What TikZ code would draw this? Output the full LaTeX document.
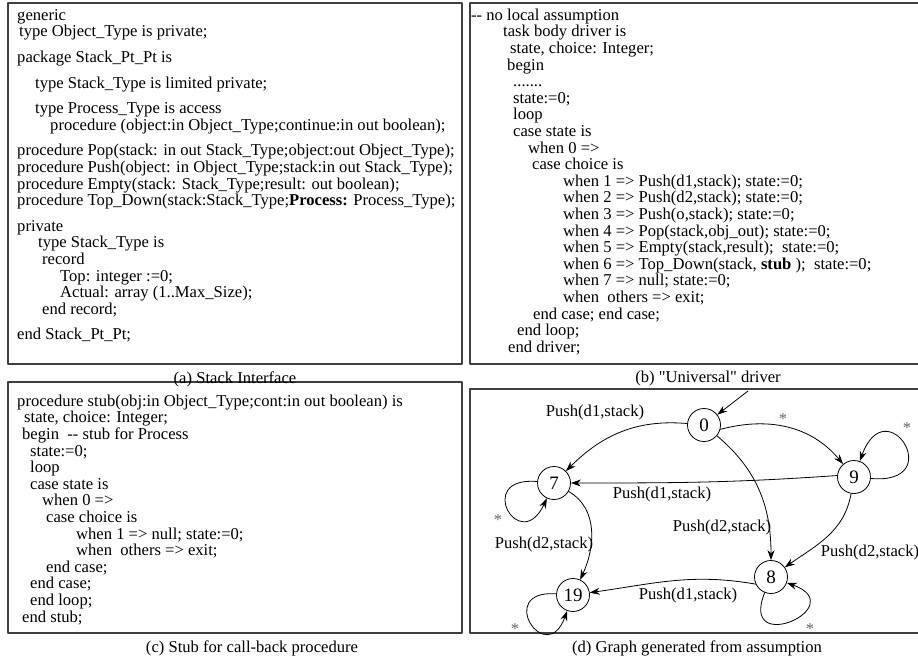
\documentclass[tikz,border=0pt]{standalone}
\usepackage{fontspec}
\newfontfamily\codefont{Liberation Serif}
\usetikzlibrary{arrows.meta}

\begin{document}
\begin{tikzpicture}[x=1pt,y=-1pt,>={Stealth[length=10pt,width=7pt]},line cap=round,line join=round,
  panel/.style={draw=black!75,line width=1.1pt},
  codeblock/.style={font=\codefont\fontsize{16.6}{16.6}\selectfont,align=left,inner sep=0pt,anchor=north west},
  captext/.style={font=\codefont\fontsize{16.6}{16.6}\selectfont,inner sep=0pt},
  stnode/.style={circle,draw,line width=0.8pt,minimum size=33pt,inner sep=0pt,font=\codefont\fontsize{19}{19}\selectfont},
  lbl/.style={font=\codefont\fontsize{16.6}{16.6}\selectfont,inner sep=0pt},
  starlbl/.style={font=\codefont\fontsize{16.6}{16.6}\selectfont,text=black!60,inner sep=0pt}]
  \useasboundingbox (0,0) rectangle (918,658);

  % Panels
  \draw[panel] (8,3) rectangle (462,364);
  \draw[panel] (470,3) rectangle (921,364);
  \draw[panel] (8,382) rectangle (462,633);
  \draw[panel] (470,389) rectangle (921,633);

  % (a) interface
  \node[codeblock] (codea) at (17,8) {\rule{0pt}{12pt}generic\\
    \hspace*{2pt}type Object\_Type is private;\\[9pt]
    package Stack\_Pt\_Pt is\\[9pt]
    \hspace*{18pt}type Stack\_Type is limited private;\\[9pt]
    \hspace*{18pt}type Process\_Type is access\\
    \hspace*{33pt}procedure (object:in Object\_Type;continue:in out boolean);\\[9pt]
    procedure Pop(stack: in out Stack\_Type;object:out Object\_Type);\\
    procedure Push(object: in Object\_Type;stack:in out Stack\_Type);\\
    procedure Empty(stack: Stack\_Type;result: out boolean);\\
    procedure Top\_Down(stack:Stack\_Type;\textbf{Process:} Process\_Type);\\[9pt]
    private\\
    \hspace*{21pt}type Stack\_Type is\\
    \hspace*{25pt}record\\
    \hspace*{43pt}Top: integer :=0;\\
    \hspace*{43pt}Actual: array (1..Max\_Size);\\
    \hspace*{25pt}end record;\\[9pt]
    end Stack\_Pt\_Pt;};

  % (b) driver
  \node[codeblock] (codeb) at (471,8) {\rule{0pt}{12pt}-- no local assumption\\
    \hspace*{32pt}task body driver is\\
    \hspace*{39pt}state, choice: Integer;\\
    \hspace*{36pt}begin\\
    \hspace*{42pt}.......\\
    \hspace*{42pt}state:=0;\\
    \hspace*{42pt}loop\\
    \hspace*{42pt}case state is\\
    \hspace*{57pt}when 0 =>\\
    \hspace*{61pt}case choice is\\
    \hspace*{92pt}when 1 => Push(d1,stack); state:=0;\\
    \hspace*{92pt}when 2 => Push(d2,stack); state:=0;\\
    \hspace*{92pt}when 3 => Push(o,stack); state:=0;\\
    \hspace*{92pt}when 4 => Pop(stack,obj\_out); state:=0;\\
    \hspace*{92pt}when 5 => Empty(stack,result);\ \ state:=0;\\
    \hspace*{92pt}when 6 => Top\_Down(stack, \textbf{stub} );\ \ state:=0;\\
    \hspace*{92pt}when 7 => null; state:=0;\\
    \hspace*{92pt}when\ \ others => exit;\\
    \hspace*{62pt}end case; end case;\\
    \hspace*{46pt}end loop;\\
    \hspace*{37pt}end driver;};

  % (c) stub
  \node[codeblock] (codec) at (17,394) {\rule{0pt}{12pt}procedure stub(obj:in Object\_Type;cont:in out boolean) is\\
    \hspace*{7pt}state, choice: Integer;\\
    \hspace*{5pt}begin\ \ -- stub for Process\\
    \hspace*{13pt}state:=0;\\
    \hspace*{13pt}loop\\
    \hspace*{13pt}case state is\\
    \hspace*{25pt}when 0 =>\\
    \hspace*{29pt}case choice is\\
    \hspace*{59pt}when 1 => null; state:=0;\\
    \hspace*{59pt}when\ \ others => exit;\\
    \hspace*{29pt}end case;\\
    \hspace*{13pt}end case;\\
    \hspace*{13pt}end loop;\\
    \hspace*{5pt}end stub;};

  % Captions
  \node[captext] (capa) at (235,379) {(a) Stack Interface};
  \node[captext] (capb) at (708,379) {(b) "Universal" driver};
  \node[captext] (capc) at (252,648) {(c) Stub for call-back procedure};
  \node[captext] (capd) at (697,648) {(d) Graph generated from assumption};

  % (d) states
  \node[stnode] (n0) at (704,425) {0};
  \node[stnode] (n7) at (554,483) {7};
  \node[stnode] (n9) at (854,477) {9};
  \node[stnode] (n8) at (771,577) {8};
  \node[stnode] (n19) at (573,595) {19};

  % Transitions
  \begin{scope}[line width=0.8pt]
    \coordinate (init) at (748,391);
    \draw[->] (init) -- (n0);
    \draw[->] (n0) to[out=175,in=45] (n7);
    \draw[->] (n0.-15) to[out=15,in=130] (n9);
    \draw[->] (n0) to[out=-40,in=90] (n8);
    \draw[->] (n9.175) to[out=184,in=0] (n7);
    \draw[->] (n9) to[out=-100,in=35] (n8);
    \draw[->] (n7) to[out=-30,in=65] (n19);
    \draw[->] (n8.205) to[out=170,in=8] (n19);
    % self loops
    \draw[->] (n9) to[out=-5,in=70,min distance=78pt] (n9);
    \draw[->] (n7) to[out=175,in=-115,min distance=64pt] (n7);
    \draw[->] (n8) to[out=-112,in=-20,min distance=70pt] (n8);
    \draw[->] (n19) to[out=176,in=-110,min distance=62pt] (n19);
  \end{scope}

  % Labels
  \node[lbl] (l07) at (595,413) {Push(d1,stack)};
  \node[lbl] (l97) at (662,495) {Push(d1,stack)};
  \node[lbl] (l08) at (722,528) {Push(d2,stack)};
  \node[lbl] (l98) at (870,553) {Push(d2,stack)};
  \node[lbl] (l819) at (688,596) {Push(d1,stack)};
  \node[lbl] (l719) at (544,545) {Push(d2,stack)};
  \node[starlbl] (s09) at (783,419) {*};
  \node[starlbl] (s9) at (907,428) {*};
  \node[starlbl] (s7) at (498,520) {*};
  \node[starlbl] (s8) at (810,629) {*};
  \node[starlbl] (s19) at (515,629) {*};
\end{tikzpicture}
\end{document}
